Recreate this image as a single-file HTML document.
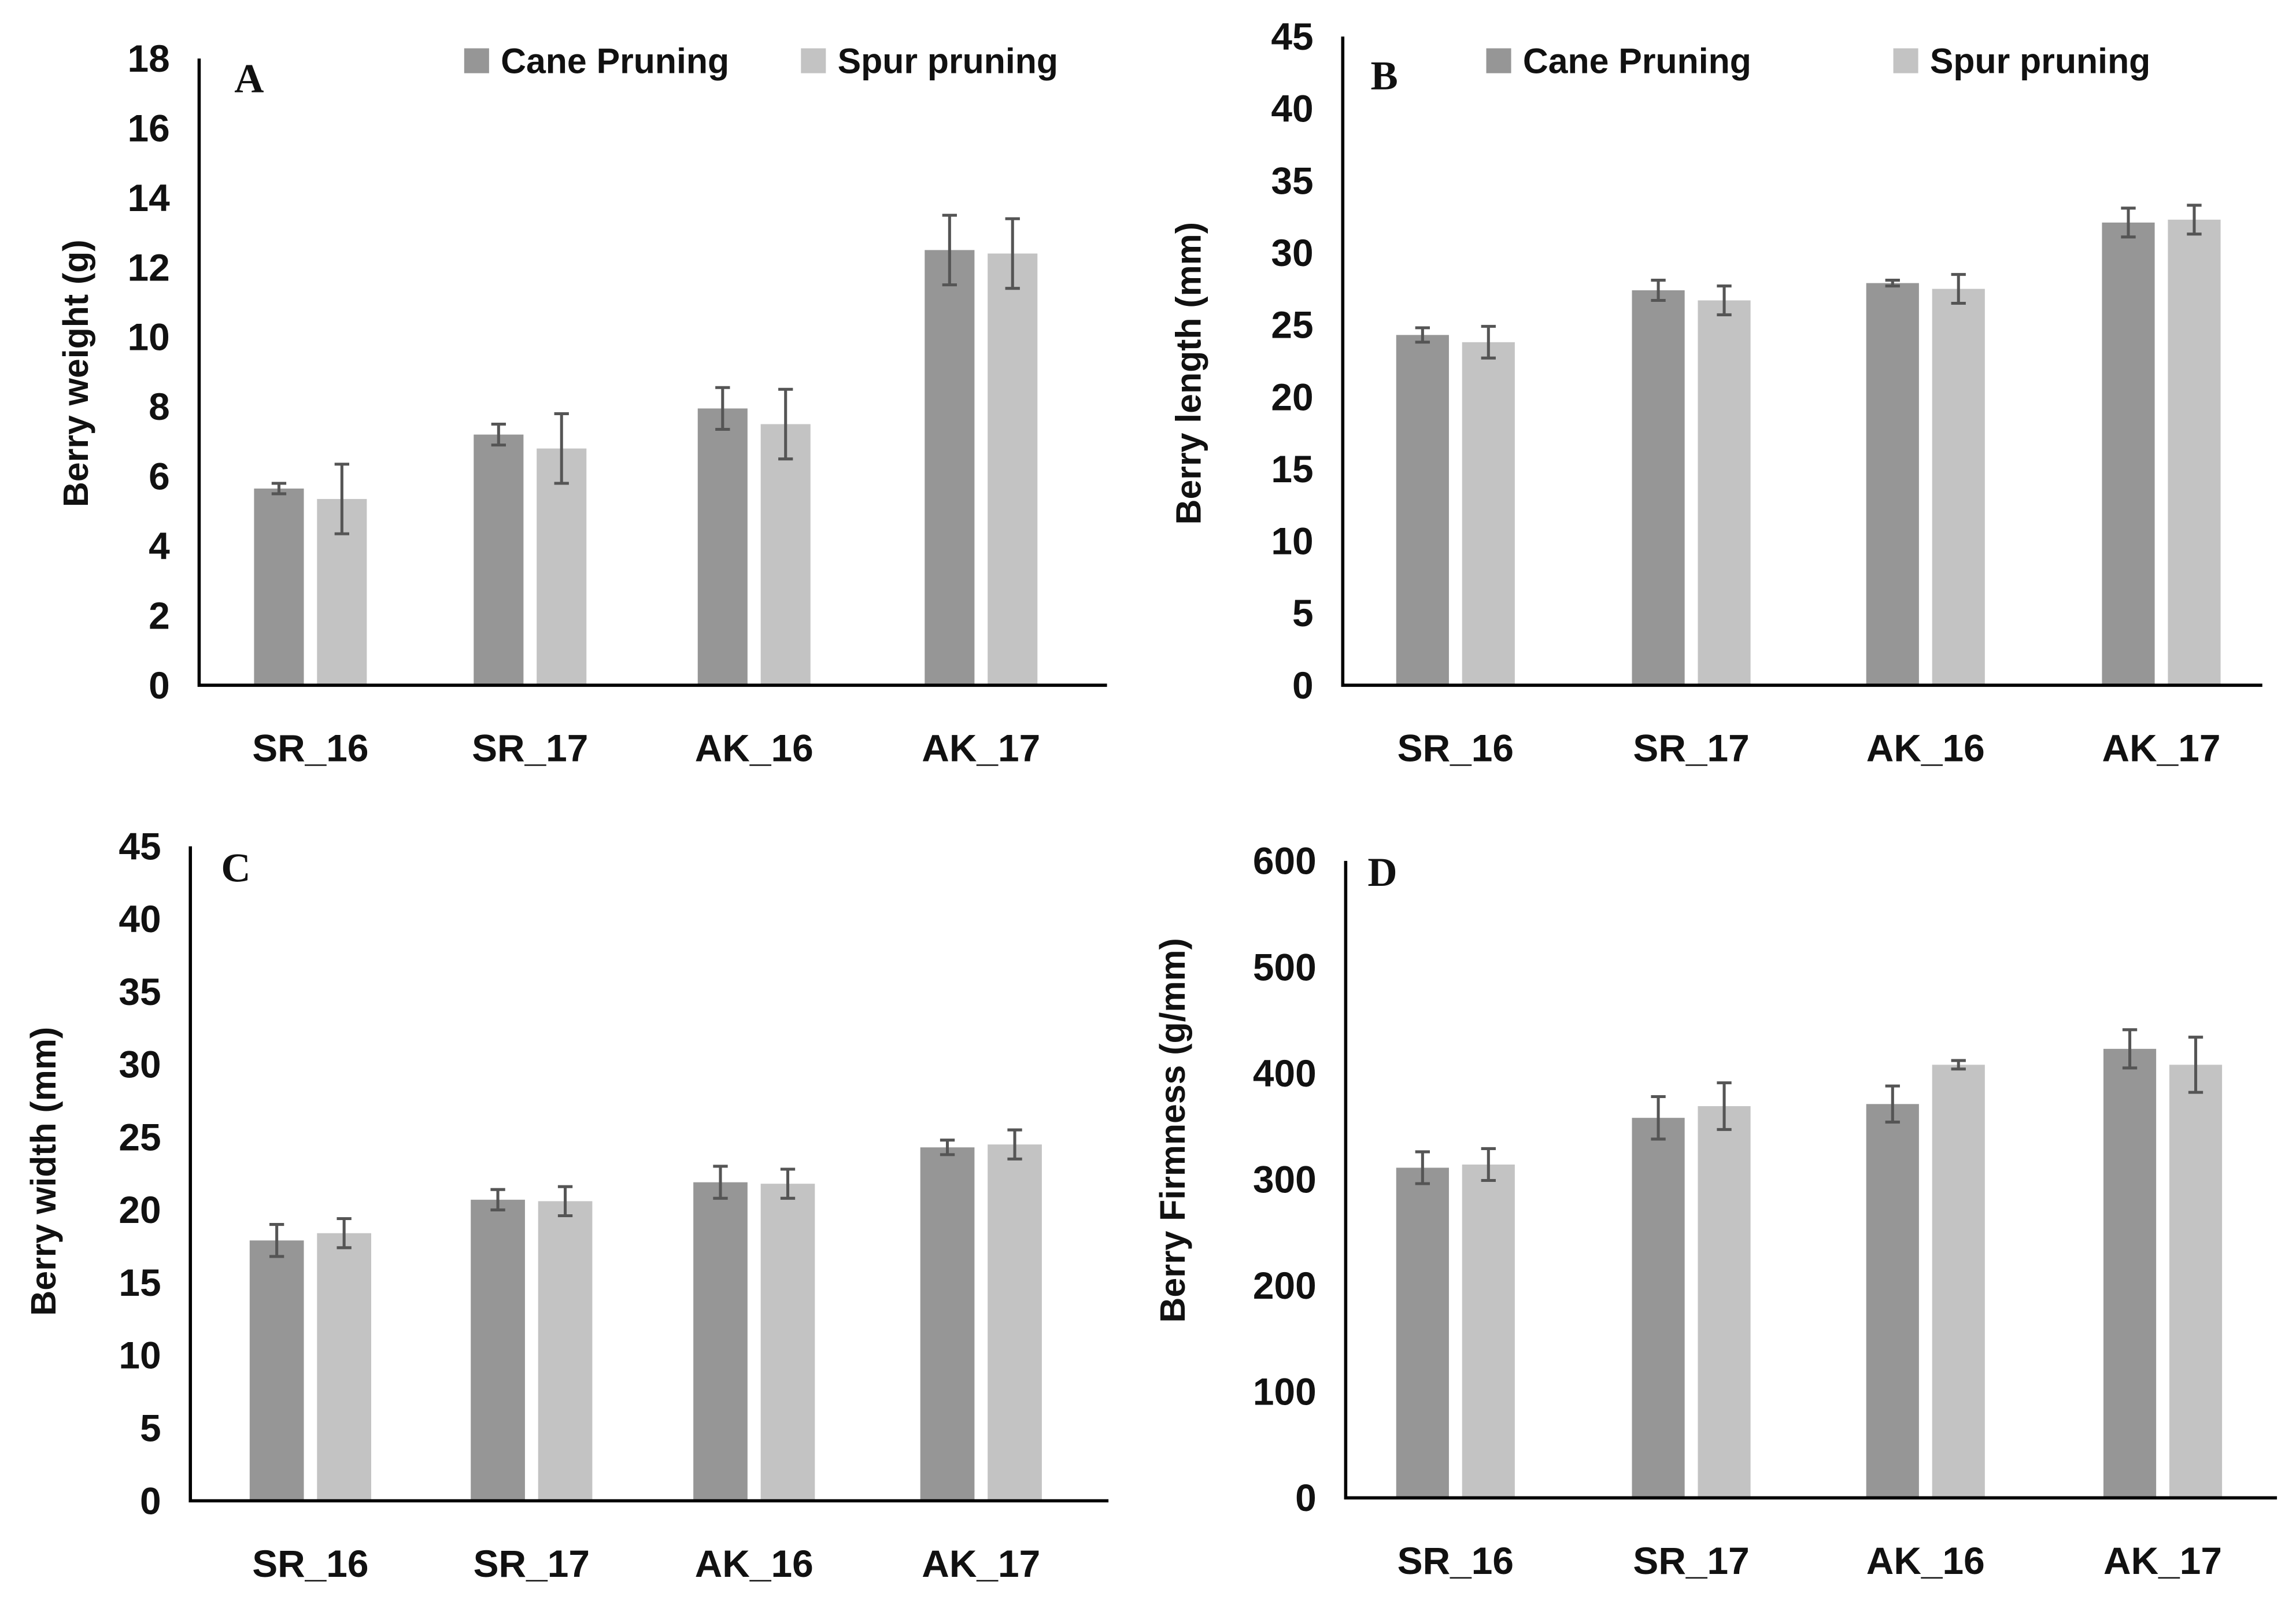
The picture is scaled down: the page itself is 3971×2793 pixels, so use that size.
<!DOCTYPE html>
<html><head><meta charset="utf-8"><style>
html,body{margin:0;padding:0;background:#fff;}
svg{display:block;}
text{font-family:"Liberation Sans",sans-serif;font-weight:bold;fill:#111;}
</style></head><body>
<svg id="fig" width="3971" height="2793" viewBox="0 0 1568 1103" preserveAspectRatio="none" xmlns="http://www.w3.org/2000/svg"></svg>
<script>
const categories = ["SR_16","SR_17","AK_16","AK_17"];
const caneA = [5.65, 7.2, 7.95, 12.5];
const caneAErr = [0.15, 0.3, 0.6, 1.0];
const spurA = [5.35, 6.8, 7.5, 12.4];
const spurAErr = [1.0, 1.0, 1.0, 1.0];
const caneB = [24.3, 27.4, 27.9, 32.1];
const caneBErr = [0.5, 0.7, 0.2, 1.0];
const spurB = [23.8, 26.7, 27.5, 32.3];
const spurBErr = [1.1, 1.0, 1.0, 1.0];
const caneC = [17.9, 20.7, 21.9, 24.3];
const caneCErr = [1.1, 0.7, 1.1, 0.5];
const spurC = [18.4, 20.6, 21.8, 24.5];
const spurCErr = [1.0, 1.0, 1.0, 1.0];
const caneD = [311, 358, 371, 423];
const caneDErr = [15, 20, 17, 18];
const spurD = [314, 369, 408, 408];
const spurDErr = [15, 22, 4, 26];
const ticksA = [0,2,4,6,8,10,12,14,16,18];
const ticksB = [0,5,10,15,20,25,30,35,40,45];
const ticksC = [0,5,10,15,20,25,30,35,40,45];
const ticksD = [0,100,200,300,400,500,600];

const NS="http://www.w3.org/2000/svg";
const svg=document.getElementById('fig');
function mk(tag,attrs,parent){const e=document.createElementNS(NS,tag);for(const k in attrs)e.setAttribute(k,attrs[k]);(parent||svg).appendChild(e);return e;}

function panel(cfg){
  const g=mk('g',{});
  
  
  const maxV=cfg.ticks[cfg.ticks.length-1];
  const y=v=>cfg.bottom-(v/maxV)*(cfg.bottom-cfg.top);
  const x=i=>cfg.cx[i];
  cfg.ticks.forEach(t=>{
    const tl=mk('text',{x:cfg.axisX-20,y:y(t)+9,'text-anchor':'end','font-size':26},g);
    tl.textContent=t;
    
    
  });
  const bw=cfg.bw, gap=cfg.gap;
  const series=[[cfg.cane,cfg.caneErr,'#969696','cane'],[cfg.spur,cfg.spurErr,'#c3c3c3','spur']];
  series.forEach((s,si)=>{
    s[0].forEach((v,i)=>{
      const x0=si===0? x(i)-gap/2-bw : x(i)+gap/2;
      const r=mk('rect',{x:x0,y:y(v),width:bw,height:cfg.bottom-y(v),fill:s[2]},g);
      
      
      const cx=x0+bw/2, e=s[1][i];
      const eb=mk('path',{d:`M${cx} ${y(v+e)}V${y(v-e)}M${cx-5} ${y(v+e)}H${cx+5}M${cx-5} ${y(v-e)}H${cx+5}`,stroke:'#555',"stroke-width":2,fill:'none'},g);
      
      
    });
  });
  const ax=mk('path',{d:`M${cfg.axisX} ${cfg.top}V${cfg.bottom}H${cfg.right}`,stroke:'#000','stroke-width':2.2,fill:'none'},g);
  
  
  categories.forEach((c,i)=>{
    const t=mk('text',{x:x(i),y:cfg.bottom+52,'text-anchor':'middle','font-size':26},g);
    t.textContent=c;
    
    
  });
  const yl=mk('text',{x:0,y:0,'text-anchor':'middle','font-size':24,transform:`translate(${cfg.ylx},${cfg.yly}) rotate(-90)`},g);
  yl.textContent=cfg.ylabel;
  
  
  const L=mk('text',{x:cfg.lx,y:cfg.ly,'font-size':28,style:'font-family:"Liberation Serif",serif'},g);
  L.textContent=cfg.letter;
  
  
  if(cfg.legend){
    const lg=cfg.legend;
    [[lg[0],'#969696','Cane Pruning','legend-entry-cane'],[lg[1],'#c3c3c3','Spur pruning','legend-entry-spur']].forEach(en=>{
      const r=mk('rect',{x:en[0],y:33,width:17,height:17,fill:en[1]},g);
      
      
      const t=mk('text',{x:en[0]+25,y:50,'font-size':24},g);
      t.textContent=en[2];
      
      
    });
  }
}
panel({letter:'A',axisX:136,top:40,bottom:468,right:756,cx:[212,362,515,670],bw:34,gap:9,ticks:ticksA,cane:caneA,caneErr:caneAErr,spur:spurA,spurErr:spurAErr,ylabel:'Berry weight (g)',ylx:60,yly:255,lx:160,ly:63,legend:[317,547]});
panel({letter:'B',axisX:917,top:25,bottom:468,right:1545,cx:[994,1155,1315,1476],bw:36,gap:9,ticks:ticksB,cane:caneB,caneErr:caneBErr,spur:spurB,spurErr:spurBErr,ylabel:'Berry length (mm)',ylx:820,yly:255,lx:936,ly:61,legend:[1015,1293]});
panel({letter:'C',axisX:130,top:578,bottom:1025,right:757,cx:[212,363,515,670],bw:37,gap:9,ticks:ticksC,cane:caneC,caneErr:caneCErr,spur:spurC,spurErr:spurCErr,ylabel:'Berry width (mm)',ylx:38,yly:800,lx:151,ly:602});
panel({letter:'D',axisX:919,top:588,bottom:1023,right:1555,cx:[994,1155,1315,1477],bw:36,gap:9,ticks:ticksD,cane:caneD,caneErr:caneDErr,spur:spurD,spurErr:spurDErr,ylabel:'Berry Firmness (g/mm)',ylx:809,yly:772,lx:934,ly:605});
</script>
</body></html>
